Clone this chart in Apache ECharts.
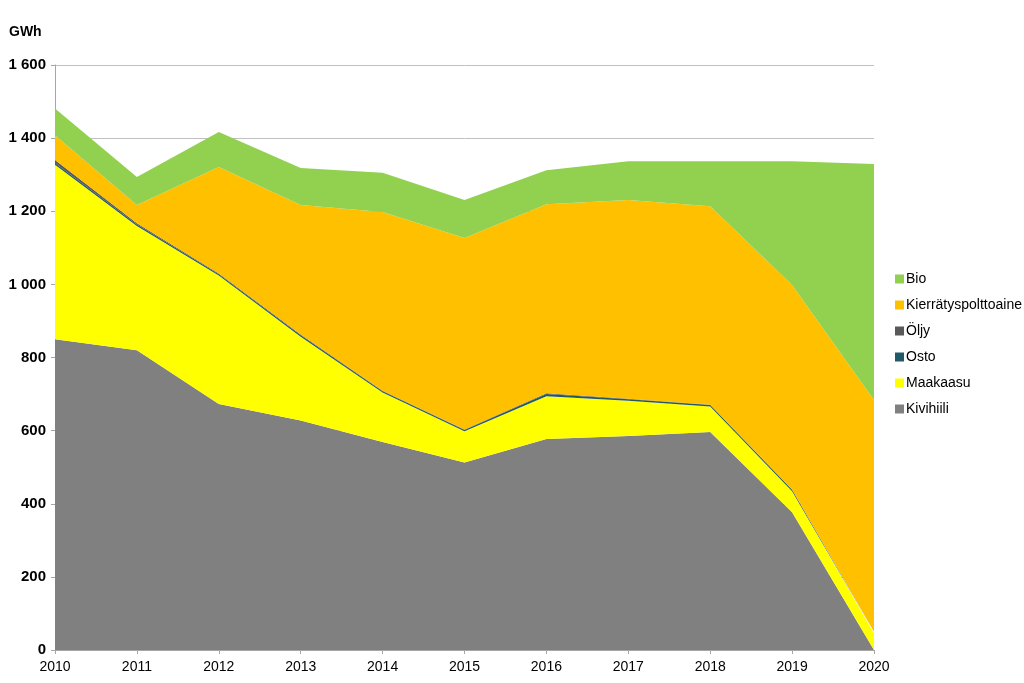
<!DOCTYPE html>
<html>
<head>
<meta charset="utf-8">
<script src="https://cdn.jsdelivr.net/npm/echarts@6/dist/echarts.min.js"></script>
<style>
  html, body { margin:0; padding:0; background:#fff; }
  #main { width:1024px; height:683px; }
</style>
</head>
<body>
<div id="main"></div>
<script type="text/javascript">
// vuodet ja tuotanto (GWh) polttoaineittain
var years = ['2010','2011','2012','2013','2014','2015','2016','2017','2018','2019','2020'];
var kivihiili = [850, 820, 673, 628, 569, 513, 577, 585, 596, 377, 0];
var maakaasu  = [477, 340, 351, 229, 135, 85, 117, 97, 70, 57, 45];
var osto      = [5, 4, 4, 4, 4, 4, 6, 4, 4, 4, 4];
var oljy      = [8, 3, 2, 2, 1, 1, 2, 1, 1, 1, 1];
var kierratys = [68, 50, 291, 354, 489, 524, 517, 544, 543, 559, 634];
var bio       = [73, 77, 96, 101, 107, 104, 93, 106, 123, 339, 645];

var legendOrder = ['Bio', 'Kierrätyspolttoaine', 'Öljy', 'Osto', 'Maakaasu', 'Kivihiili'];

function area(name, data, color) {
    return {
        name: name,
        type: 'line',
        stack: 'total',
        data: data,
        symbol: 'none',
        lineStyle: { width: 0 },
        areaStyle: { color: color, opacity: 1 },
        itemStyle: { color: color },
        emphasis: { disabled: true },
        animation: false
    };
}

var myChart = echarts.init(document.getElementById('main'));
var option = {
    backgroundColor: '#ffffff',
    animation: false,
    title: {
        text: 'GWh',
        left: 4,
        top: 20,
        textStyle: { fontFamily: 'Liberation Sans', fontSize: 14, fontWeight: 'bold', color: '#000' }
    },
    grid: { left: 55, right: 150, top: 65, bottom: 33 },
    legend: {
        orient: 'vertical',
        left: 890,
        top: 267,
        itemWidth: 9,
        itemHeight: 9,
        itemGap: 12,
        icon: 'rect',
        data: legendOrder,
        textStyle: { fontFamily: 'Liberation Sans', fontSize: 14, color: '#000', padding: [0, 0, 0, -3] }
    },
    xAxis: {
        type: 'category',
        data: years,
        boundaryGap: false,
        axisLine: { lineStyle: { color: '#A6A6A6' } },
        axisTick: { show: true, length: 4, lineStyle: { color: '#A6A6A6' } },
        axisLabel: { fontFamily: 'Liberation Sans', fontSize: 14, color: '#000', margin: 10 }
    },
    yAxis: {
        type: 'value',
        min: 0,
        max: 1600,
        interval: 200,
        axisLine: { show: true, lineStyle: { color: '#A6A6A6' } },
        axisTick: { show: true, length: 4, lineStyle: { color: '#A6A6A6' } },
        splitLine: { lineStyle: { color: '#C0C0C0' } },
        axisLabel: {
            fontFamily: 'Liberation Sans', fontSize: 15, fontWeight: 'bold', color: '#000', margin: 9,
            formatter: function (v) {
                return v >= 1000 ? Math.floor(v / 1000) + ' ' + String(v % 1000).padStart(3, '0') : String(v);
            }
        }
    },
    series: [
        area('Kivihiili', kivihiili, '#808080'),
        area('Maakaasu', maakaasu, '#FFFF00'),
        area('Osto', osto, '#215968'),
        area('Öljy', oljy, '#595959'),
        area('Kierrätyspolttoaine', kierratys, '#FFC000'),
        area('Bio', bio, '#92D050')
    ]
};
myChart.setOption(option);
</script>
</body>
</html>
